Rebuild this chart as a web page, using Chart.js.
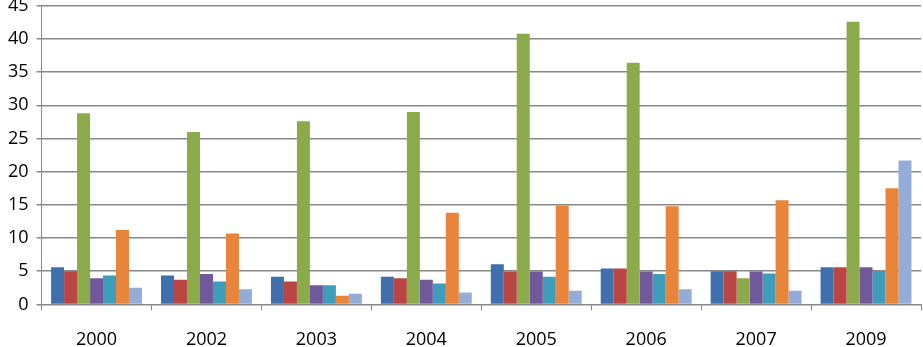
<!DOCTYPE html>
<html>
<head>
<meta charset="utf-8">
<script src="https://cdn.jsdelivr.net/npm/chart.js@4"></script>
<style>
    html, body { margin: 0; padding: 0; background: #fff; }
    #wrap { position: relative; width: 923px; height: 347px; overflow: hidden; }
    #chart { position: absolute; left: 0; top: -13px; }
</style>
</head>
<body>
<div id="wrap"><canvas id="chart" width="923" height="383"></canvas></div>
<script>
const years = ['2000', '2002', '2003', '2004', '2005', '2006', '2007', '2009'];

const seriesBlue      = [5.6, 4.35, 4.15, 4.15, 6.05, 5.4, 5.0, 5.6];
const seriesRed       = [5.0, 3.7, 3.45, 3.95, 4.95, 5.4, 5.0, 5.6];
const seriesGreen     = [28.8, 26.0, 27.6, 29.0, 40.8, 36.4, 3.95, 42.6];
const seriesPurple    = [3.95, 4.6, 2.9, 3.7, 4.95, 4.95, 4.95, 5.6];
const seriesTeal      = [4.35, 3.45, 2.9, 3.15, 4.15, 4.6, 4.65, 5.05];
const seriesOrange    = [11.2, 10.7, 1.3, 13.8, 14.9, 14.8, 15.7, 17.5];
const seriesLightBlue = [2.5, 2.3, 1.6, 1.8, 2.05, 2.3, 2.05, 21.7];

const yTicks = [0, 5, 10, 15, 20, 25, 30, 35, 40, 45];

const colors = ['#3f6fad', '#b94643', '#8baa4a', '#71589a', '#3d9dba', '#e8853a', '#93add8'];
const allSeries = [seriesBlue, seriesRed, seriesGreen, seriesPurple, seriesTeal, seriesOrange, seriesLightBlue];

const datasets = allSeries.map((values, i) => ({
    data: values,
    backgroundColor: colors[i],
    borderWidth: 0,
    barPercentage: 1,
    categoryPercentage: 0.827
}));

const font = { family: 'Open Sans', size: 18 };

new Chart(document.getElementById('chart'), {
    type: 'bar',
    data: { labels: years, datasets: datasets },
    options: {
        responsive: false,
        animation: false,
        layout: { padding: { top: 0, right: 2, left: 0, bottom: 0 } },
        plugins: { legend: { display: false }, tooltip: { enabled: false } },
        scales: {
            x: {
                grid: {
                    offset: true,
                    drawOnChartArea: false,
                    color: '#888',
                    tickLength: 6
                },
                border: { color: '#888', width: 1 },
                ticks: { color: '#000', font: font, padding: 19 }
            },
            y: {
                min: 0,
                max: 45,
                afterBuildTicks: (axis) => {
                    axis.ticks = yTicks.map(v => ({ value: v }));
                },
                grid: { color: '#888', lineWidth: 1.5, tickLength: 5 },
                border: { color: '#888', width: 1 },
                ticks: { color: '#000', font: font, padding: 8 }
            }
        }
    }
});
</script>
</body>
</html>
